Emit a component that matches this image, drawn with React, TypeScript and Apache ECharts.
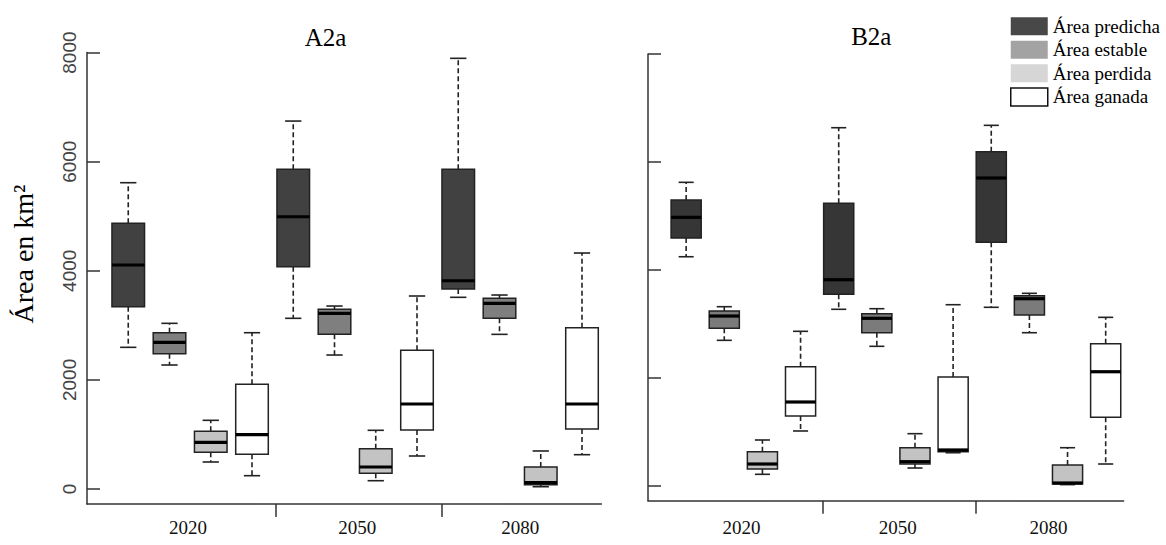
import React, { useEffect, useRef } from "react";
import * as echarts from "echarts";

const years = ["2020", "2050", "2080"];
const classes = ["Área predicha", "Área estable", "Área perdida", "Área ganada"];
const panelTitles = ["A2a", "B2a"];
const yTicks = [0, 2000, 4000, 6000, 8000];
const yTitle = "Área en km²";

// each row: [min, Q1, median, Q3, max] for 2020, 2050, 2080
const a2aPredicha = [[2597, 3342, 4106, 4870, 5615], [3129, 4075, 4991, 5860, 6745], [3514, 3666, 3818, 5860, 7895]];
const a2aEstable = [[2273, 2480, 2689, 2865, 3037], [2456, 2835, 3220, 3294, 3354], [2835, 3129, 3404, 3495, 3556]];
const a2aPerdida = [[495, 672, 856, 1057, 1259], [152, 287, 403, 739, 1076], [42, 79, 116, 403, 697]];
const a2aGanada = [[244, 636, 995, 1919, 2865], [605, 1081, 1558, 2542, 3538], [629, 1100, 1558, 2957, 4326]];

const b2aPredicha = [[4243, 4590, 4973, 5294, 5622], [3269, 3547, 3817, 5233, 6634], [3306, 4510, 5702, 6189, 6678]];
const b2aEstable = [[2694, 2917, 3144, 3237, 3317], [2583, 2835, 3102, 3187, 3280], [2835, 3163, 3465, 3521, 3565]];
const b2aPerdida = [[211, 309, 402, 630, 847], [328, 402, 445, 704, 964], [20, 30, 50, 384, 704]];
const b2aGanada = [[1014, 1292, 1551, 2205, 2861], [611, 630, 662, 2014, 3354], [402, 1267, 2112, 2631, 3120]];

const panelData = [
  [a2aPredicha, a2aEstable, a2aPerdida, a2aGanada],
  [b2aPredicha, b2aEstable, b2aPerdida, b2aGanada],
];

const SERIF = '"Liberation Serif", "Times New Roman", serif';
const SANS = '"Liberation Sans", Arial, sans-serif';
const INK = "#222";

const boxFills = [
  ["#414141", "#7f7f7f", "#c3c3c3", "#ffffff"],
  ["#363636", "#7b7b7b", "#c3c3c3", "#ffffff"],
];
const legendFills = ["#484848", "#a3a3a3", "#d6d6d6", "#ffffff"];

const X_MAX = 12.47;
const grids = [
  { left: 87, top: 52.6, width: 12.47 * 41.25, height: 451.4, yMin: -275, labelMargin: 14 },
  { left: 648, top: 54, width: 12.47 * 38.14, height: 446.7, yMin: -278, labelMargin: 17 },
];
const titlePos = [
  [325.5, 37],
  [871.3, 36.7],
];

function renderBox(params: any, api: any) {
  const x = api.value(0);
  const pMin = api.coord([x, api.value(1)]);
  const pQ1 = api.coord([x, api.value(2)]);
  const pMed = api.coord([x, api.value(3)]);
  const pQ3 = api.coord([x, api.value(4)]);
  const pMax = api.coord([x, api.value(5)]);
  const w = api.size([0.79, 0])[0];
  const half = w / 2;
  const cap = w / 4;
  const cx = pMed[0];
  const fill = api.visual("color");
  const dash = { stroke: INK, lineWidth: 1.6, lineDash: [5, 3] };
  const solid = { stroke: INK, lineWidth: 1.6 };
  return {
    type: "group",
    children: [
      { type: "line", shape: { x1: cx, y1: pQ3[1], x2: cx, y2: pMax[1] }, style: dash },
      { type: "line", shape: { x1: cx, y1: pQ1[1], x2: cx, y2: pMin[1] }, style: dash },
      { type: "line", shape: { x1: cx - cap, y1: pMax[1], x2: cx + cap, y2: pMax[1] }, style: solid },
      { type: "line", shape: { x1: cx - cap, y1: pMin[1], x2: cx + cap, y2: pMin[1] }, style: solid },
      {
        type: "rect",
        shape: { x: cx - half, y: pQ3[1], width: w, height: pQ1[1] - pQ3[1] },
        style: { fill, stroke: INK, lineWidth: 1.5 },
      },
      { type: "line", shape: { x1: cx - half, y1: pMed[1], x2: cx + half, y2: pMed[1] }, style: { stroke: "#000", lineWidth: 3.2 } },
    ],
  };
}

export default function App() {
  const ref = useRef<HTMLDivElement>(null);
  useEffect(() => {
    document.body.style.margin = "0";
    if (!ref.current) return;
    const chart = echarts.init(ref.current, undefined, { renderer: "svg" });

    const series: any[] = [];
    panelData.forEach((sets, p) => {
      sets.forEach((rows, c) => {
        series.push({
          type: "custom",
          name: classes[c],
          xAxisIndex: p,
          yAxisIndex: p,
          renderItem: renderBox,
          itemStyle: { color: boxFills[p][c] },
          encode: { x: 0, y: [1, 2, 3, 4, 5] },
          clip: false,
          data: rows.map((r, yi) => [yi * 4 + c + 1, ...r]),
        });
      });
    });

    const option: any = {
      animation: false,
      backgroundColor: "#ffffff",
      grid: grids.map((g) => ({ left: g.left, top: g.top, width: g.width, height: g.height, containLabel: false })),
      xAxis: grids.map((g, i) => ({
        type: "value",
        gridIndex: i,
        min: 0,
        max: X_MAX,
        splitLine: { show: false },
        axisLine: { show: true, onZero: false, lineStyle: { color: "#333", width: 1.5 } },
        axisTick: { show: true, customValues: [4.57, 8.6], length: 13, lineStyle: { color: "#333", width: 1.5 } },
        axisLabel: {
          show: true,
          customValues: [2.45, 6.55, 10.5],
          formatter: (v: number) => years[Math.max(0, Math.round((v - 2.5) / 4))],
          margin: g.labelMargin,
          fontFamily: SERIF,
          fontSize: 19,
          color: "#111",
        },
      })),
      yAxis: grids.map((g, i) => ({
        type: "value",
        gridIndex: i,
        min: g.yMin,
        max: 8000,
        splitLine: { show: false },
        axisLine: { show: true, onZero: false, lineStyle: { color: "#333", width: 1.5 } },
        axisTick: { show: true, inside: true, customValues: yTicks, length: 13, lineStyle: { color: "#333", width: 1.5 } },
        axisLabel: {
          show: i === 0,
          customValues: yTicks,
          formatter: (v: number) => String(v),
          rotate: 90,
          margin: 8,
          fontFamily: SANS,
          fontSize: 19,
          color: "#444",
        },
      })),
      legend: {
        orient: "vertical",
        left: 1010,
        top: 16.7,
        padding: 0,
        itemWidth: 37,
        itemHeight: 18,
        itemGap: 4.5,
        selectedMode: false,
        textStyle: { fontFamily: SERIF, fontSize: 19, color: "#000", lineHeight: 18 },
        data: classes.map((name, c) => ({
          name,
          icon: "rect",
          itemStyle: {
            color: legendFills[c],
            borderColor: c === 3 ? "#111" : legendFills[c],
            borderWidth: c === 3 ? 1.5 : 0,
          },
        })),
      },
      graphic: [
        ...panelTitles.map((t, i) => ({
          type: "text",
          x: titlePos[i][0],
          y: titlePos[i][1],
          style: { text: t, font: `25px ${SERIF}`, fill: "#000", textAlign: "center", textVerticalAlign: "middle" },
        })),
        {
          type: "text",
          x: 23,
          y: 254,
          rotation: Math.PI / 2,
          style: { text: yTitle, font: `28px ${SERIF}`, fill: "#000", textAlign: "center", textVerticalAlign: "middle" },
        },
      ],
      series,
    };

    chart.setOption(option);
    return () => chart.dispose();
  }, []);

  return <div ref={ref} style={{ width: 1166, height: 545 }} />;
}
